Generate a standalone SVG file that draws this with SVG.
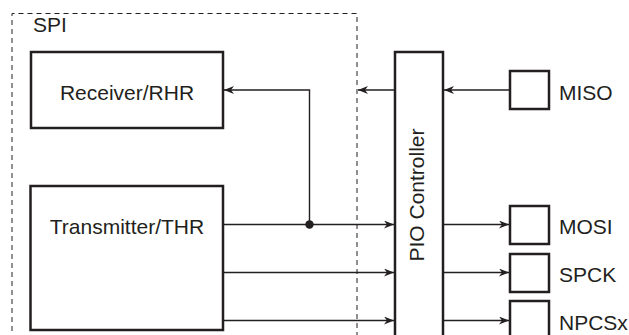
<svg xmlns="http://www.w3.org/2000/svg" width="629" height="335" viewBox="0 0 629 335">
<defs>
<marker id="ah" viewBox="0 0 10 8" refX="10" refY="4" markerWidth="10" markerHeight="8" markerUnits="userSpaceOnUse" orient="auto">
<path d="M0,0 L10,4 L0,8 L3,4 Z" fill="#231f20"/>
</marker>
</defs>
<style>
.box{fill:#fff;stroke:#231f20;stroke-width:2.5}
.lbl{font-family:"Liberation Sans",Arial,sans-serif;font-size:21px;fill:#231f20}
.ln{fill:none;stroke:#231f20;stroke-width:1.4}
.arr{fill:none;stroke:#231f20;stroke-width:1.4;marker-end:url(#ah)}
.dash{fill:none;stroke:#231f20;stroke-width:1;stroke-dasharray:5,4}
</style>
<rect width="629" height="335" fill="#fff"/>
<g id="spi">
<path class="dash" d="M12,340 L12,13.5 L357,13.5 L357,340"/>
<text class="lbl" x="33" y="32">SPI</text>
</g>
<g id="receiver">
<rect class="box" x="31" y="52" width="192" height="76"/>
<text class="lbl" x="127" y="100" text-anchor="middle">Receiver/RHR</text>
</g>
<g id="transmitter">
<rect class="box" x="30.5" y="186" width="192.5" height="144"/>
<text class="lbl" x="127" y="234" text-anchor="middle">Transmitter/THR</text>
</g>
<g id="pio">
<rect class="box" x="395" y="52" width="48" height="300"/>
<text class="lbl" transform="translate(424,195) rotate(-90)" text-anchor="middle">PIO Controller</text>
</g>
<g id="miso">
<rect class="box" x="510" y="71" width="39" height="38"/>
<text class="lbl" x="559" y="100">MISO</text>
</g>
<g id="mosi">
<rect class="box" x="510" y="206" width="39" height="38"/>
<text class="lbl" x="559" y="234">MOSI</text>
</g>
<g id="spck">
<rect class="box" x="510" y="254" width="39" height="38"/>
<text class="lbl" x="559" y="282">SPCK</text>
</g>
<g id="npcsx">
<rect class="box" x="510" y="301" width="39" height="50"/>
<text class="lbl" x="559" y="330">NPCSx</text>
</g>
<g id="connectors">
<path class="arr" d="M510,90 L444,90"/>
<path class="arr" d="M395,90 L358,90"/>
<path class="arr" d="M309.5,224.5 L309.5,90 L224,90"/>
<path class="arr" d="M223,224.5 L394,224.5"/>
<circle cx="309.5" cy="224.5" r="4.2" fill="#231f20"/>
<path class="arr" d="M223,272.5 L394,272.5"/>
<path class="arr" d="M223,320.5 L394,320.5"/>
<path class="arr" d="M443,224.5 L509,224.5"/>
<path class="arr" d="M443,272.5 L509,272.5"/>
<path class="arr" d="M443,320.5 L509,320.5"/>
</g>
</svg>
